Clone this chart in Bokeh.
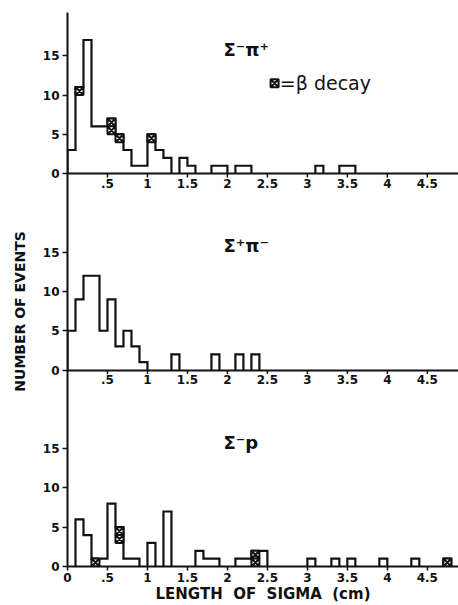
from bokeh.plotting import figure
from bokeh.models import FixedTicker, Label
from bokeh.core.properties import value
from bokeh.embed import file_html
from bokeh.resources import INLINE

# ---------------- data (counts per 0.1 cm bin, first bin starts at 0) ----------------
bin_width = 0.1
sigma_minus_pi_plus = [3, 11, 17, 6, 6, 7, 5, 3, 1, 1,
                       5, 3, 2, 0, 2, 1, 0, 0, 1, 1,
                       0, 1, 1, 0, 0, 0, 0, 0, 0, 0,
                       0, 1, 0, 0, 1, 1, 0, 0, 0, 0,
                       0, 0, 0, 0, 0, 0, 0, 0]
beta_minus_pi_plus = [0, 1, 0, 0, 0, 2, 1, 0, 0, 0,
                      1, 0, 0, 0, 0, 0, 0, 0, 0, 0,
                      0, 0, 0, 0, 0, 0, 0, 0, 0, 0,
                      0, 0, 0, 0, 0, 0, 0, 0, 0, 0,
                      0, 0, 0, 0, 0, 0, 0, 0]
sigma_plus_pi_minus = [5, 9, 12, 12, 5, 9, 3, 5, 3, 1,
                       0, 0, 0, 2, 0, 0, 0, 0, 2, 0,
                       0, 2, 0, 2, 0, 0, 0, 0, 0, 0,
                       0, 0, 0, 0, 0, 0, 0, 0, 0, 0,
                       0, 0, 0, 0, 0, 0, 0, 0]
beta_plus_pi_minus = [0] * 48
sigma_minus_p = [0, 6, 4, 1, 1, 8, 5, 1, 1, 0,
                 3, 0, 7, 0, 0, 0, 2, 1, 1, 0,
                 0, 1, 1, 2, 2, 0, 0, 0, 0, 0,
                 1, 0, 0, 1, 0, 1, 0, 0, 0, 1,
                 0, 0, 0, 1, 0, 0, 0, 1]
beta_minus_p = [0, 0, 0, 1, 0, 0, 2, 0, 0, 0,
                0, 0, 0, 0, 0, 0, 0, 0, 0, 0,
                0, 0, 0, 2, 0, 0, 0, 0, 0, 0,
                0, 0, 0, 0, 0, 0, 0, 0, 0, 0,
                0, 0, 0, 0, 0, 0, 0, 1]

panel_titles = ["Σ⁻π⁺", "Σ⁺π⁻", "Σ⁻p"]
panel_counts = [sigma_minus_pi_plus, sigma_plus_pi_minus, sigma_minus_p]
panel_betas = [beta_minus_pi_plus, beta_plus_pi_minus, beta_minus_p]
panel_base = [50, 25, 0]          # vertical stacking offset of each panel (events)

y_tick_values = [0, 5, 10, 15]
x_tick_values = [0.5, 1, 1.5, 2, 2.5, 3, 3.5, 4, 4.5]
x_tick_labels = [".5", "1", "1.5", "2", "2.5", "3", "3.5", "4", "4.5"]
legend_text = "=β decay"
x_title = "LENGTH\u00a0 OF\u00a0 SIGMA\u00a0 (cm)"
y_title = "NUMBER OF EVENTS" + "\u00a0" * 9   # padding shifts the centred title downward

X_MAX = 4.89
Y_MAX = 70.5
FONT = "DejaVu Sans"
INK = "#111111"

p = figure(width=458, height=605, x_range=(0, X_MAX), y_range=(0, Y_MAX),
           output_backend="svg", toolbar_location=None, tools="",
           min_border_left=67, min_border_right=0, min_border_top=12, min_border_bottom=36)
p.grid.visible = False
p.outline_line_color = None
p.background_fill_color = "white"
p.border_fill_color = "white"

# ---------- axes ----------
xa = p.xaxis[0]
xa.ticker = FixedTicker(ticks=[0] + x_tick_values)
xa.major_label_overrides = {0: "0", **{v: l for v, l in zip(x_tick_values, x_tick_labels)}}
xa.axis_line_width = 2
xa.axis_line_color = INK
xa.major_tick_in = 0
xa.major_tick_out = 4
xa.major_tick_line_width = 1.5
xa.major_tick_line_color = INK
xa.minor_tick_line_color = None
xa.major_label_standoff = 2
xa.major_label_text_font = FONT
xa.major_label_text_font_style = "bold"
xa.major_label_text_font_size = "12px"
xa.major_label_text_color = INK
xa.axis_label = x_title
xa.axis_label_standoff = 0
xa.axis_label_text_font = FONT
xa.axis_label_text_font_style = "bold"
xa.axis_label_text_font_size = "15px"
xa.axis_label_text_color = INK

ya = p.yaxis[0]
all_y_ticks = []
overrides = {}
for b in panel_base:
    for t in y_tick_values:
        all_y_ticks.append(b + t)
        overrides[b + t] = str(t)
ya.ticker = FixedTicker(ticks=sorted(all_y_ticks))
ya.major_label_overrides = overrides
ya.axis_line_width = 2
ya.axis_line_color = INK
ya.major_tick_in = 0
ya.major_tick_out = 5
ya.major_tick_line_width = 1.5
ya.major_tick_line_color = INK
ya.minor_tick_line_color = None
ya.major_label_standoff = 3
ya.major_label_text_font = FONT
ya.major_label_text_font_style = "bold"
ya.major_label_text_font_size = "12px"
ya.major_label_text_color = INK
ya.axis_label = y_title
ya.axis_label_standoff = 12
ya.axis_label_text_font = FONT
ya.axis_label_text_font_style = "bold"
ya.axis_label_text_font_size = "14px"
ya.axis_label_text_color = INK

# ---------- upper panels' own x axes (zero line, ticks, labels) ----------
upper = [b for b in panel_base if b > 0]
p.hspan(y=upper, line_color=INK, line_width=2)
tx, ty0, ty1, lx, ly, lt = [], [], [], [], [], []
for b in upper:
    for v, l in zip(x_tick_values, x_tick_labels):
        tx.append(v); ty0.append(b); ty1.append(b - 0.5)
        lx.append(v); ly.append(b); lt.append(l)
p.segment(x0=tx, y0=ty0, x1=tx, y1=ty1, line_color=INK, line_width=1.5)
p.text(x=lx, y=ly, text=lt, text_font=value(FONT), text_font_style="bold",
       text_font_size="12px", text_align="center", text_baseline="top",
       y_offset=5, text_color=INK)

# ---------- histograms ----------
def outline(counts, base):
    xs, ys = [], []
    n = len(counts)
    i = 0
    while i < n:
        if counts[i] == 0:
            i += 1
            continue
        rx, ry = [i * bin_width], [base]
        j = i
        while j < n and counts[j] > 0:
            rx += [j * bin_width, (j + 1) * bin_width]
            ry += [base + counts[j], base + counts[j]]
            j += 1
        rx.append(j * bin_width); ry.append(base)
        xs.append(rx); ys.append(ry)
        i = j
    return xs, ys

bx, by = [], []
for counts, betas, b in zip(panel_counts, panel_betas, panel_base):
    xs, ys = outline(counts, b)
    p.multi_line(xs, ys, line_color=INK, line_width=2.2, line_join="miter")
    for k, (c, nb) in enumerate(zip(counts, betas)):
        for u in range(nb):
            bx.append((k + 0.5) * bin_width)
            by.append(b + c - u - 0.5)

p.scatter(x=bx, y=by, marker="square_x", size=8, line_color=INK, line_width=2,
          fill_color="white")

# ---------- texts ----------
for title, b in zip(panel_titles, panel_base):
    p.add_layout(Label(x=1.95, y=b + 15.8, text=title, text_font=FONT,
                       text_font_style="bold", text_font_size="18px",
                       text_baseline="middle", text_color=INK))

p.scatter(x=[2.59], y=[panel_base[0] + 11.5], marker="square_x", size=8,
          line_color=INK, line_width=2, fill_color="white")
p.add_layout(Label(x=2.655, y=panel_base[0] + 11.5, text=legend_text, text_font=FONT,
                   text_font_size="19px", text_baseline="middle", text_color=INK))

open("out.html", "w").write(file_html(p, INLINE))
